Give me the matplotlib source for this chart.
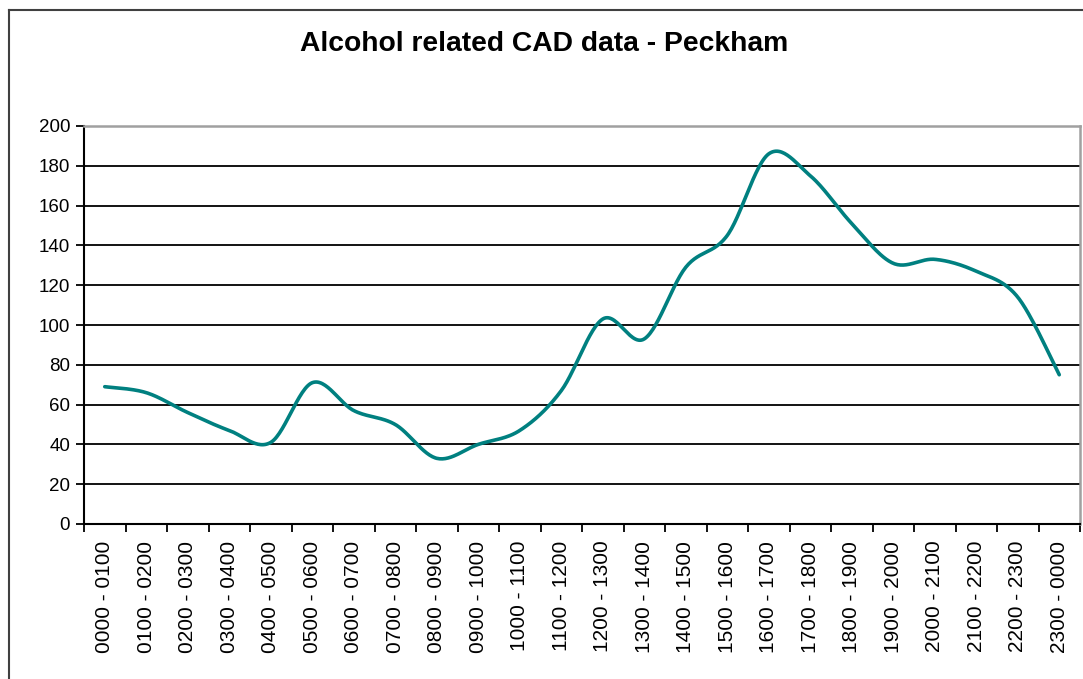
import matplotlib.pyplot as plt
import numpy as np
from matplotlib.lines import Line2D


HOURS = ["0000", "0100", "0200", "0300", "0400", "0500", "0600", "0700",
         "0800", "0900", "1000", "1100", "1200", "1300", "1400", "1500",
         "1600", "1700", "1800", "1900", "2000", "2100", "2200", "2300"]
LABELS = [f"{h} - {HOURS[(i + 1) % 24]}" for i, h in enumerate(HOURS)]
COUNTS = [69, 66, 56, 47, 41, 71, 57, 50, 33, 40, 47, 67,
          103, 93, 129, 145, 186, 175, 151, 131, 133, 127, 114, 75]
Y_TICKS = list(range(0, 201, 20))
TITLE = "Alcohol related CAD data - Peckham"


def smooth_line(y, steps=30):
    # Excel-style smoothed line: cubic Bezier, control points at 1/6 of neighbour span
    y = np.asarray(y, dtype=float)
    x = np.arange(len(y), dtype=float)
    px = np.concatenate([[x[0]], x, [x[-1]]])
    py = np.concatenate([[y[0]], y, [y[-1]]])
    xs, ys = [], []
    t = np.linspace(0, 1, steps)
    for i in range(len(y) - 1):
        p0 = np.array([px[i + 1], py[i + 1]])
        p3 = np.array([px[i + 2], py[i + 2]])
        c1 = p0 + (np.array([px[i + 2], py[i + 2]]) - np.array([px[i], py[i]])) / 6
        c2 = p3 - (np.array([px[i + 3], py[i + 3]]) - np.array([px[i + 1], py[i + 1]])) / 6
        b = ((1 - t) ** 3)[:, None] * p0 + (3 * (1 - t) ** 2 * t)[:, None] * c1 \
            + (3 * (1 - t) * t ** 2)[:, None] * c2 + (t ** 3)[:, None] * p3
        xs.extend(b[:, 0])
        ys.extend(b[:, 1])
    return np.array(xs), np.array(ys)


plt.rcParams["font.family"] = ["Liberation Sans", "DejaVu Sans"]

fig = plt.figure(figsize=(10.83, 6.79), dpi=100)
ax = fig.add_axes([84 / 1083, 1 - 524 / 679, 996 / 1083, 398 / 679])

sx, sy = smooth_line(COUNTS)
ax.plot(sx, sy, color="#008080", linewidth=2.6, solid_capstyle="round")

ax.set_xlim(-0.5, len(COUNTS) - 0.5)
ax.set_ylim(0, 200)
ax.set_yticks(Y_TICKS)
ax.set_yticklabels([str(v) for v in Y_TICKS], fontsize=13.5)
for v in Y_TICKS[1:-1]:
    ax.axhline(v, color="black", linewidth=1.3, zorder=0)

ax.set_xticks(np.arange(len(LABELS)))
ax.set_xticklabels(LABELS, rotation=90, fontsize=15)
ax.set_xticks(np.arange(len(LABELS) + 1) - 0.5, minor=True)
ax.tick_params(axis="x", which="major", length=0, pad=12)
ax.tick_params(axis="x", which="minor", length=6, width=1.3, direction="out")
ax.tick_params(axis="y", length=6, width=1.3, direction="out", pad=4)

for side in ["left", "bottom"]:
    ax.spines[side].set_color("black")
    ax.spines[side].set_linewidth(1.5)
for side in ["top", "right"]:
    ax.spines[side].set_color("#a0a0a0")
    ax.spines[side].set_linewidth(1.8)

fig.text(0.502, 1 - 44 / 679, TITLE, ha="center", va="center",
         fontsize=20.3, fontweight="bold")

# chart area outline (left and top edges visible)
fig.add_artist(Line2D([9 / 1083, 9 / 1083], [0, 1 - 10 / 679], color="#404040", linewidth=1.5))
fig.add_artist(Line2D([9 / 1083, 1], [1 - 10 / 679, 1 - 10 / 679], color="#404040", linewidth=1.5))

fig.savefig("out.png", dpi=100)
